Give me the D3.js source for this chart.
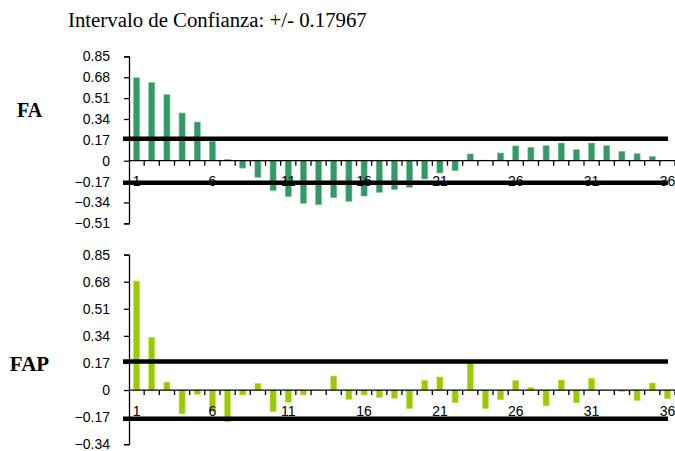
<!DOCTYPE html>
<html>
<head>
<meta charset="utf-8">
<script src="https://cdn.jsdelivr.net/npm/d3@7"></script>
<style>
  html, body { margin: 0; padding: 0; background: #fff; }
  svg { display: block; }
  .tick text { font-family: "Liberation Sans", Arial, sans-serif; font-size: 14px; fill: #000; }
</style>
</head>
<body>
<svg id="chart" width="675" height="451"></svg>
<script>
// Lags 1..36
const lags = d3.range(1, 37);

// Autocorrelation function (FA)
const faValues = [
  0.676, 0.636, 0.538, 0.389, 0.315, 0.158, 0.011, -0.060, -0.136, -0.244,
  -0.293, -0.348, -0.358, -0.301, -0.331, -0.288, -0.258, -0.236, -0.217, -0.149,
  -0.100, -0.081, 0.055, 0.005, 0.063, 0.120, 0.109, 0.122, 0.144, 0.090,
  0.144, 0.122, 0.076, 0.057, 0.033, 0.000
];

// Partial autocorrelation function (FAP)
const fapValues = [
  0.684, 0.331, 0.050, -0.150, -0.027, -0.135, -0.200, -0.031, 0.042, -0.136,
  -0.077, -0.031, 0.000, 0.088, -0.059, -0.031, -0.047, -0.052, -0.117, 0.061,
  0.082, -0.080, 0.171, -0.117, -0.061, 0.061, 0.015, -0.100, 0.063, -0.080,
  0.073, 0.000, -0.010, -0.067, 0.044, -0.055
];

const confidence = 0.17967;

const faTicks = [0.85, 0.68, 0.51, 0.34, 0.17, 0, -0.17, -0.34, -0.51];
const fapTicks = [0.85, 0.68, 0.51, 0.34, 0.17, 0, -0.17, -0.34];
const lagLabels = [1, 6, 11, 16, 21, 26, 31, 36];

const svg = d3.select("#chart");

svg.append("text")
  .attr("x", 68)
  .attr("y", 27)
  .attr("font-family", "'Liberation Serif', 'Times New Roman', serif")
  .attr("font-size", 20.8)
  .text("Intervalo de Confianza: +/- " + confidence);

const x = d3.scaleBand().domain(lags).range([129, 675]).paddingInner(0).paddingOuter(0);

function drawPanel(opts) {
  const g = svg.append("g");
  const y = d3.scaleLinear().domain([opts.min, opts.max]).range([opts.bottom, opts.top]);
  const y0 = y(0);

  // Bars
  g.append("g").selectAll("rect")
    .data(lags.map((l, i) => ({ lag: l, v: opts.values[i] })))
    .join("rect")
    .attr("x", d => x(d.lag) + x.bandwidth() * 0.3)
    .attr("width", x.bandwidth() * 0.4)
    .attr("y", d => Math.min(y(d.v), y0))
    .attr("height", d => Math.abs(y(d.v) - y0))
    .attr("fill", opts.color)
    .attr("stroke", opts.edge)
    .attr("stroke-width", 0.6);

  // Y axis
  const yAxis = d3.axisLeft(y)
    .tickValues(opts.ticks)
    .tickSize(5)
    .tickPadding(14)
    .tickFormat(d => d === 0 ? "0" : d3.format(".2f")(d));
  const ya = g.append("g").attr("transform", "translate(129,0)").call(yAxis);
  ya.select(".domain").attr("stroke", "#000").attr("stroke-width", 1.3);
  ya.selectAll(".tick line").attr("stroke", "#000").attr("stroke-width", 1.3);

  // X axis at zero
  const xa = g.append("g").attr("transform", `translate(0,${y0})`);
  xa.append("line")
    .attr("x1", 129).attr("x2", 675)
    .attr("stroke", "#000").attr("stroke-width", 1.3);
  xa.selectAll("line.tk")
    .data(lags)
    .join("line")
    .attr("class", "tk")
    .attr("x1", d => x(d) + x.bandwidth()).attr("x2", d => x(d) + x.bandwidth())
    .attr("y1", 0).attr("y2", 5)
    .attr("stroke", "#000").attr("stroke-width", 1.3);
  xa.selectAll("text")
    .data(lagLabels)
    .join("text")
    .attr("x", d => x(d) + x.bandwidth() / 2)
    .attr("y", 25.5)
    .attr("text-anchor", "middle")
    .attr("font-family", "'Liberation Sans', Arial, sans-serif")
    .attr("font-size", 14)
    .text(d => d);

  // Confidence limits
  [confidence, -confidence].forEach(c => {
    g.append("line")
      .attr("x1", 123).attr("x2", 668)
      .attr("y1", y(c)).attr("y2", y(c))
      .attr("stroke", "#000").attr("stroke-width", 4.5);
  });

  // Panel label
  svg.append("text")
    .attr("x", 29.5)
    .attr("y", opts.labelY)
    .attr("text-anchor", "middle")
    .attr("font-family", "'Liberation Serif', 'Times New Roman', serif")
    .attr("font-weight", "bold")
    .attr("font-size", opts.labelSize)
    .text(opts.label);
}

drawPanel({
  values: faValues, ticks: faTicks, min: -0.51, max: 0.85,
  top: 56.4, bottom: 223.3, color: "#339966", edge: "#7cc19d",
  label: "FA", labelY: 116.7, labelSize: 20
});

drawPanel({
  values: fapValues, ticks: fapTicks, min: -0.34, max: 0.85,
  top: 254.6, bottom: 444.2, color: "#99cc00", edge: "#c2e366",
  label: "FAP", labelY: 370.7, labelSize: 21
});
</script>
</body>
</html>
